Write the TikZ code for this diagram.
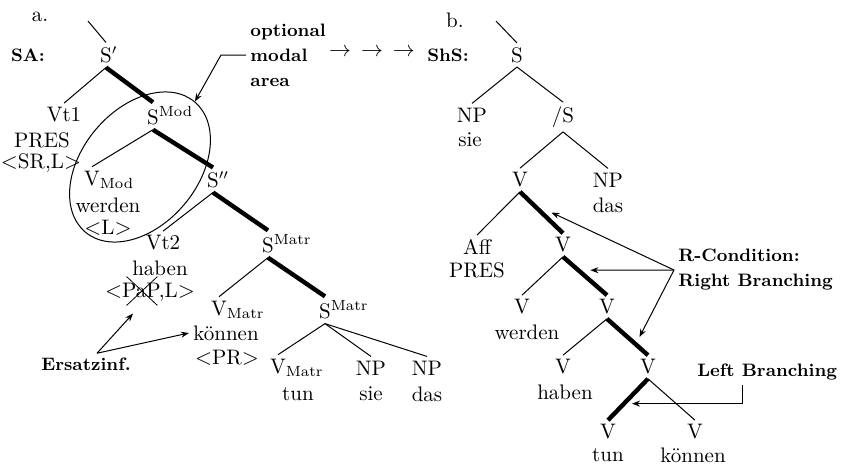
\documentclass[tikz,border=0pt]{standalone}
\usepackage{fontspec}
\usetikzlibrary{positioning, arrows.meta, shapes.geometric, shapes.misc}

\begin{document}
\begin{tikzpicture}[x=0.5pt, y=-0.5pt,
        lbl/.style={inner sep=2pt, font=\fontsize{10.5pt}{12.5pt}\selectfont},
        tag/.style={inner sep=2pt, font=\fontsize{9pt}{12.5pt}\selectfont\bfseries},
        edge/.style={line width=0.5pt},
        heavy/.style={line width=2.2pt},
        arr/.style={-{Stealth[length=4pt, width=3pt]}, line width=0.5pt}]
      \useasboundingbox (0,0) rectangle (843,466);
      % Left tree (SA)
      \node[lbl] (a) at (40,17) {a.};
      \node[tag] (sa) at (28,55) {SA:};
      \coordinate (sastub) at (88,21);
      \node[lbl] (s1) at (106,55) {S\rlap{$'$}};
      \node[lbl] (vt1) at (64,115) {Vt1};
      \node[lbl] (pres1) at (42,140) {PRES};
      \node[lbl] (srl) at (41,163) {$<$SR,L$>$};
      \node[lbl] (smod) at (153,116) {S\rlap{\textsuperscript{Mod}}};
      \node[lbl] (vmod) at (92,180) {V\rlap{\textsubscript{Mod}}};
      \node[lbl] (werden1) at (108,205) {werden};
      \node[lbl] (lpr) at (108,228) {$<$L$>$};
      \node[lbl] (s2) at (213,180) {S\rlap{$''$}};
      \node[lbl] (vt2) at (163,243) {Vt2};
      \node[lbl] (haben1) at (160,268) {haben};
      \node[lbl] (pap) at (150,292) {$<$PaP,L$>$};
      \node[draw, cross out, line width=0.4pt, minimum width=15pt, minimum height=14pt, inner sep=0pt] (papx) at (142,291) {};
      \node[lbl] (smatr1) at (268,244) {S\rlap{\textsuperscript{Matr}}};
      \node[lbl] (vmatr1) at (219,310) {V\rlap{\textsubscript{Matr}}};
      \node[lbl] (koennen1) at (226,333) {können};
      \node[lbl] (pr) at (227,358) {$<$PR$>$};
      \node[lbl] (smatr2) at (325,310) {S\rlap{\textsuperscript{Matr}}};
      \node[lbl] (vmatr2) at (278,368) {V\rlap{\textsubscript{Matr}}};
      \node[lbl] (tun1) at (298,394) {tun};
      \node[lbl] (np1) at (371,368) {NP};
      \node[lbl] (sie1) at (371,394) {sie};
      \node[lbl] (np2) at (427,368) {NP};
      \node[lbl] (das1) at (427,394) {das};

      \draw[edge] (sastub) -- (s1.north);
      \draw[edge] (s1.south) -- (vt1.north);
      \draw[heavy] (s1.south) -- (smod.north);
      \draw[edge] (smod.south) -- (vmod.north);
      \draw[heavy] (smod.south) -- (s2.north);
      \draw[edge] (s2.south) -- (vt2.north);
      \draw[heavy] (s2.south) -- (smatr1.north);
      \draw[edge] (smatr1.south) -- (vmatr1.north);
      \draw[heavy] (smatr1.south) -- (smatr2.north);
      \draw[edge] (smatr2.south) -- (vmatr2.north);
      \draw[edge] (smatr2.south) -- (np1.north);
      \draw[edge] (smatr2.south) -- (np2.north);

      % Modal area
      \node[draw, ellipse, rotate=50, minimum width=85pt, minimum height=58pt, inner sep=0pt, line width=0.5pt] (modal) at (140,167) {};
      \node[tag, align=left, anchor=west] (opt) at (246,55) {optional\\modal\\area};
      \draw[arr] (opt.west) -- ++(-25,0) -- (modal.east);
      \node[lbl] (steps) at (372,52) {$\rightarrow$\hspace{5pt}$\rightarrow$\hspace{5pt}$\rightarrow$};

      % Ersatzinfinitiv
      \node[tag] (ersatz) at (86,364) {Ersatzinf.};
      \draw[arr] ([xshift=5.5pt]ersatz.north) -- ([xshift=-8.5pt, yshift=-4pt]pap.south);
      \draw[arr] ([xshift=5.5pt]ersatz.north) -- (koennen1.west);

      % Right tree (ShS)
      \node[lbl] (b) at (455,20) {b.};
      \node[tag] (shs) at (448,55) {ShS:};
      \coordinate (shsstub) at (496,21);
      \node[lbl] (rs) at (517,55) {S};
      \node[lbl] (rnp) at (472,115) {NP};
      \node[lbl] (rsie) at (470,140) {sie};
      \node[lbl] (rslash) at (563,117) {/S};
      \node[lbl] (rv1) at (520,180) {V};
      \node[lbl] (rnpd) at (608,180) {NP};
      \node[lbl] (rdas) at (608,205) {das};
      \node[lbl] (aff) at (477,247) {Aff};
      \node[lbl] (pres2) at (477,270) {PRES};
      \node[lbl] (rv2) at (563,245) {V};
      \node[lbl] (rv3) at (522,307) {V};
      \node[lbl] (werden2) at (527,332) {werden};
      \node[lbl] (rv4) at (607,307) {V};
      \node[lbl] (rv5) at (563,367) {V};
      \node[lbl] (haben2) at (565,392) {haben};
      \node[lbl] (rv6) at (648,367) {V};
      \node[lbl] (rv7) at (608,432) {V};
      \node[lbl] (tun2) at (608,455) {tun};
      \node[lbl] (rv8) at (695,432) {V};
      \node[lbl] (koennen2) at (693,455) {können};

      \draw[edge] (shsstub) -- (rs.north);
      \draw[edge] (rs.south) -- (rnp.north);
      \draw[edge] (rs.south) -- (rslash.north);
      \draw[edge] (rslash.south) -- (rv1.north);
      \draw[edge] (rslash.south) -- (rnpd.north);
      \draw[edge] (rv1.south) -- (aff.north);
      \draw[heavy] (rv1.south) -- coordinate[pos=0.5] (rb1) (rv2.north);
      \draw[edge] (rv2.south) -- (rv3.north);
      \draw[heavy] (rv2.south) -- coordinate[pos=0.35] (rb2) (rv4.north);
      \draw[edge] (rv4.south) -- (rv5.north);
      \draw[heavy] (rv4.south) -- coordinate[pos=0.5] (rb3) (rv6.north);
      \draw[heavy] (rv6.south) -- coordinate[pos=0.6] (rb4) (rv7.north);
      \draw[edge] (rv6.south) -- (rv8.north);

      % Conditions
      \node[tag, align=left, anchor=west] (rcond) at (674,270) {R-Condition:\\Right Branching};
      \node[tag, anchor=west] (lbr) at (693,372) {Left Branching};
      \draw[arr] (rcond.west) -- ([xshift=5pt]rb1);
      \draw[arr] (rcond.west) -- ([xshift=6pt]rb2);
      \draw[arr] (rcond.west) -- ([xshift=6pt]rb3);
      \draw[arr] ([xshift=24.5pt]lbr.south west) |- ([xshift=4pt]rb4);
\end{tikzpicture}
\end{document}
